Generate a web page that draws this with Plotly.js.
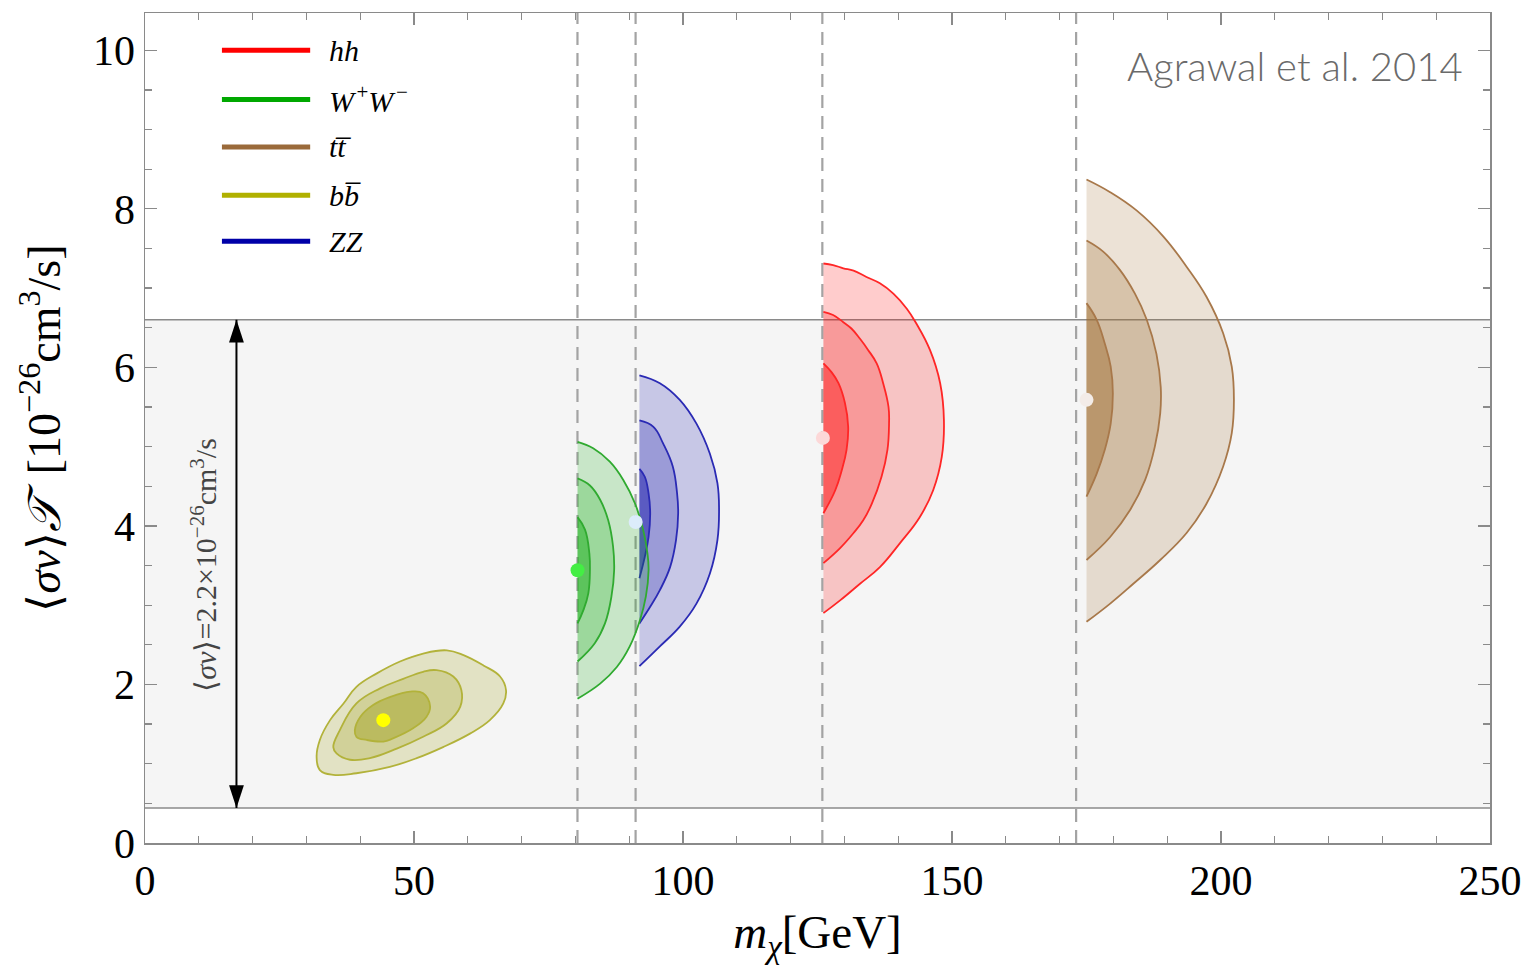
<!DOCTYPE html>
<html>
<head>
<meta charset="utf-8">
<script src="https://cdn.plot.ly/plotly-3.0.1.min.js"></script>
<style>
html,body{margin:0;padding:0;background:#fff;}
#chart{width:1530px;height:965px;}
</style>
</head>
<body>
<div id="chart"></div>
<script>
// ---------- data ----------
const particleMasses = [80.385, 91.1876, 125.9, 173.07];   // GeV, dashed thresholds
const bandLimits = [0.44, 6.6];                            // <sigma v> band (10^-26 cm^3/s)
const bandArrowX = 17;

const channelLabels = ['<i>hh</i>', '<i>W</i>\u200a<sup>+</sup><i>W</i>\u200a<sup>−</sup>', '<i>tt̅</i>', '<i>bb̅</i>', '<i>ZZ</i>'];
const channelColors = ['#ff0000', '#00a800', '#9a6a3a', '#b0b000', '#0000a8'];

// hh contours (outer = 3σ, middle = 2σ, inner = 1σ)
const hh_outer_x = [126.1,127.9,129.8,131.7,134.1,136.6,139.1,141.6,143.4,145.9,147.8,148.5,148.1,146.5,144.0,140.3,136.6,132.9,129.2,126.1];
const hh_outer_y = [7.31,7.29,7.25,7.22,7.14,7.06,6.93,6.74,6.55,6.22,5.80,5.33,4.87,4.45,4.11,3.78,3.48,3.27,3.06,2.90];
const hh_mid_x = [126.1,127.9,129.8,131.3,132.9,134.4,136.0,137.2,138.2,138.3,138.0,136.9,135.1,133.5,131.7,129.2,126.1];
const hh_mid_y = [6.70,6.66,6.57,6.49,6.36,6.22,6.05,5.80,5.50,5.29,4.96,4.62,4.28,4.07,3.91,3.72,3.53];
const hh_inner_x = [126.1,127.6,128.9,130.1,130.7,130.4,129.5,128.3,126.1];
const hh_inner_y = [6.05,5.94,5.80,5.55,5.25,4.96,4.70,4.45,4.16];
const hh_best = [126.0, 5.11];

// W+W- contours
const ww_outer_x = [80.4,83.3,86.4,88.9,91.1,92.6,93.4,93.6,93.1,92.0,90.1,87.7,84.6,80.4];
const ww_outer_y = [5.06,4.98,4.81,4.58,4.28,3.95,3.65,3.44,3.11,2.81,2.48,2.22,2.01,1.82];
const ww_mid_x = [80.4,82.7,84.6,86.1,87.0,87.2,86.7,85.5,83.6,80.4];
const ww_mid_y = [4.60,4.51,4.33,4.07,3.74,3.44,3.11,2.77,2.52,2.29];
const ww_inner_x = [80.4,81.8,82.6,82.7,82.4,81.5,80.4];
const ww_inner_y = [4.11,3.95,3.65,3.44,3.15,2.94,2.77];
const ww_best = [80.4, 3.44];

// ZZ contours
const zz_outer_x = [91.9,95.7,99.4,102.5,105.0,106.4,106.7,106.4,105.0,102.5,99.4,95.7,91.9];
const zz_outer_y = [5.90,5.80,5.59,5.29,4.91,4.54,4.20,3.82,3.40,3.02,2.73,2.48,2.23];
const zz_mid_x = [91.9,94.5,96.3,98.1,98.9,99.1,98.7,97.6,95.7,93.9,91.9];
const zz_mid_y = [5.33,5.25,5.04,4.75,4.41,4.16,3.82,3.48,3.19,2.98,2.77];
const zz_inner_x = [91.9,92.9,93.6,93.9,93.6,92.9,91.9];
const zz_inner_y = [4.72,4.62,4.41,4.16,3.86,3.61,3.34];
const zz_best = [91.2, 4.05];

// tt contours
const tt_outer_x = [175.0,179.4,184.3,189.3,193.6,197.3,200.4,202.0,202.4,202.0,200.4,197.3,193.6,188.7,183.7,179.4,175.0];
const tt_outer_y = [8.37,8.21,7.98,7.65,7.27,6.89,6.43,6.01,5.59,5.17,4.75,4.28,3.91,3.57,3.27,3.02,2.79];
const tt_mid_x = [175.0,178.1,181.2,184.0,186.2,188.0,188.8,188.7,187.7,185.9,183.1,179.4,175.0];
const tt_mid_y = [7.60,7.46,7.23,6.93,6.60,6.17,5.75,5.42,5.00,4.58,4.20,3.86,3.57];
const tt_inner_x = [175.0,176.9,178.4,179.5,179.9,179.5,178.4,176.9,175.0];
const tt_inner_y = [6.81,6.60,6.30,6.01,5.67,5.29,4.96,4.66,4.37];
const tt_best = [175.0, 5.59];

// bb contours (closed)
const bb_outer_x = [31.9,32.5,34.4,36.9,39.3,43.1,47.4,51.7,56.1,59.2,62.9,66.0,67.1,66.6,64.1,60.4,55.4,50.5,45.5,39.3,35.0,32.5,31.9];
const bb_outer_y = [1.09,1.30,1.55,1.76,1.97,2.14,2.29,2.39,2.43,2.37,2.24,2.10,1.93,1.76,1.55,1.38,1.21,1.07,0.96,0.88,0.86,0.92,1.09];
const bb_mid_x = [35.0,36.2,39.3,43.7,48.0,51.7,54.2,57.3,58.8,58.6,56.1,51.7,46.8,41.8,38.1,35.6,35.0];
const bb_mid_y = [1.21,1.42,1.76,1.95,2.07,2.16,2.18,2.10,1.93,1.72,1.51,1.34,1.19,1.07,1.05,1.13,1.21];
const bb_inner_x = [39.0,40.0,42.4,45.5,49.3,51.7,53.0,52.3,49.9,46.1,44.3,41.2,39.3,39.0];
const bb_inner_y = [1.42,1.59,1.74,1.84,1.91,1.89,1.72,1.59,1.45,1.32,1.28,1.30,1.34,1.42];
const bb_best = [44.3, 1.55];

const xTicks = [0, 50, 100, 150, 200, 250];
const yTicks = [0, 2, 4, 6, 8, 10];

// ---------- styling ----------
const styles = {
  bb: {line:'#b2b23a', rgb:[150,150,0], alphas:[0.2,0.22,0.37], dot:'#ffff00'},
  zz: {line:'#2a2ab4', rgb:[0,0,166], alphas:[0.19,0.22,0.41], dot:'#dcecfb'},
  ww: {line:'#30aa30', rgb:[0,167,0], alphas:[0.18,0.22,0.41], dot:'#44ee44'},
  hh: {line:'#ff2626', rgb:[255,0,0], alphas:[0.2,0.21,0.39], dot:'#fcd8d8'},
  tt: {line:'#a8784a', rgb:[160,110,50], alphas:[0.2,0.27,0.48], dot:'#f3ece8'}
};
const sets = {
  bb: [[bb_outer_x,bb_outer_y],[bb_mid_x,bb_mid_y],[bb_inner_x,bb_inner_y], bb_best],
  zz: [[zz_outer_x,zz_outer_y],[zz_mid_x,zz_mid_y],[zz_inner_x,zz_inner_y], zz_best],
  ww: [[ww_outer_x,ww_outer_y],[ww_mid_x,ww_mid_y],[ww_inner_x,ww_inner_y], ww_best],
  hh: [[hh_outer_x,hh_outer_y],[hh_mid_x,hh_mid_y],[hh_inner_x,hh_inner_y], hh_best],
  tt: [[tt_outer_x,tt_outer_y],[tt_mid_x,tt_mid_y],[tt_inner_x,tt_inner_y], tt_best]
};

const traces = [];
// double-headed arrow for the <sigma v> band
traces.push({
  type:'scatter', mode:'lines+markers', x:[bandArrowX, bandArrowX], y:[bandLimits[0], bandLimits[1]],
  line:{color:'#000', width:2},
  marker:{symbol:'arrow', size:24, angle:[180, 0], color:'#000', line:{width:0}},
  showlegend:false, hoverinfo:'skip', cliponaxis:false
});
const dots = [];
['bb','zz','ww','hh','tt'].forEach(k => {
  const s = styles[k], d = sets[k];
  for (let i = 0; i < 3; i++) {
    const [r,g,b] = s.rgb;
    traces.push({
      type:'scatter', mode:'lines', x:d[i][0], y:d[i][1],
      fill:'toself', fillcolor:`rgba(${r},${g},${b},${s.alphas[i]})`,
      line:{color:s.line, width:1.8, shape:'spline', smoothing:1.2},
      hoverinfo:'skip', showlegend:false
    });
  }
  dots.push({
    type:'scatter', mode:'markers', x:[d[3][0]], y:[d[3][1]],
    marker:{size:14, color:s.dot, line:{width:0}}, showlegend:false, hoverinfo:'skip'
  });
});

const shapes = [];
// grey band
shapes.push({type:'rect', xref:'paper', yref:'y', x0:0, x1:1, y0:bandLimits[0], y1:bandLimits[1],
  fillcolor:'#f5f5f5', line:{width:0}, layer:'below'});
bandLimits.forEach(v => shapes.push({type:'line', xref:'paper', yref:'y', x0:0, x1:1, y0:v, y1:v,
  line:{color:'#8a8a8a', width:1.5}, layer:'below'}));
// dashed mass thresholds
particleMasses.forEach(m => shapes.push({type:'line', xref:'x', yref:'paper', x0:m, x1:m, y0:0, y1:1,
  line:{color:'#a3a3a3', width:2.2, dash:'13px,8px'}, layer:'below'}));

// custom legend
const legendY = [10.0, 9.38, 8.78, 8.17, 7.59];
const annotations = [];
channelLabels.forEach((lab, i) => {
  shapes.push({type:'line', xref:'x', yref:'y', x0:14.3, x1:30.7, y0:legendY[i], y1:legendY[i],
    line:{color:channelColors[i], width:5}});
  annotations.push({x:33.8, y:legendY[i], xref:'x', yref:'y', text:lab, showarrow:false,
    xanchor:'left', yanchor:'middle', font:{family:'Liberation Serif, serif', size:30, color:'#000'}});
});

annotations.push({x:10.8, y:3.5, xref:'x', yref:'y', text:'⟨<i>σv</i>⟩=2.2×10<sup>−26</sup>cm<sup>3</sup>/s',
  textangle:-90, showarrow:false, font:{family:'Liberation Serif, serif', size:30, color:'#444'}});
annotations.push({x:245.4, y:9.8, xref:'x', yref:'y', text:'Agrawal et al. 2014', showarrow:false,
  xanchor:'right', yanchor:'middle', font:{family:'Lato, sans-serif', size:40, color:'#6a6a6a', weight:300}});

const axisCommon = {
  showgrid:false, zeroline:false, showline:true, mirror:'allticks', linecolor:'#8a8a8a', linewidth:1.5,
  ticks:'inside', ticklen:12, tickwidth:1.3, tickcolor:'#8a8a8a',
  tickfont:{family:'Liberation Serif, serif', size:42, color:'#000'}
};

const layout = {
  width:1530, height:965,
  margin:{l:145, r:40, t:13, b:122},
  paper_bgcolor:'#fff', plot_bgcolor:'#fff',
  showlegend:false,
  xaxis: Object.assign({}, axisCommon, {
    range:[0,250], tickvals:xTicks, ticktext:xTicks.map(String),
    minor:{dtick:10, ticklen:7, ticks:'inside', tickcolor:'#8a8a8a', tickwidth:1.2},
    title:{text:'<i>m</i><sub><i>χ</i></sub>[GeV]', font:{family:'Liberation Serif, serif', size:47, color:'#000'}, standoff:18}
  }),
  yaxis: Object.assign({}, axisCommon, {
    range:[0,10.47], tickvals:yTicks, ticktext:yTicks.map(String),
    minor:{dtick:0.5, ticklen:7, ticks:'inside', tickcolor:'#8a8a8a', tickwidth:1.2},
    title:{text:'⟨<i>σv</i>⟩<i>𝒯</i>  [10<sup>−26</sup>cm<sup>3</sup>/s]', font:{family:'Liberation Serif, serif', size:46, color:'#000'}, standoff:18}
  }),
  shapes: shapes,
  annotations: annotations
};

Plotly.newPlot('chart', traces.concat(dots), layout, {staticPlot:true});
</script>
</body>
</html>
